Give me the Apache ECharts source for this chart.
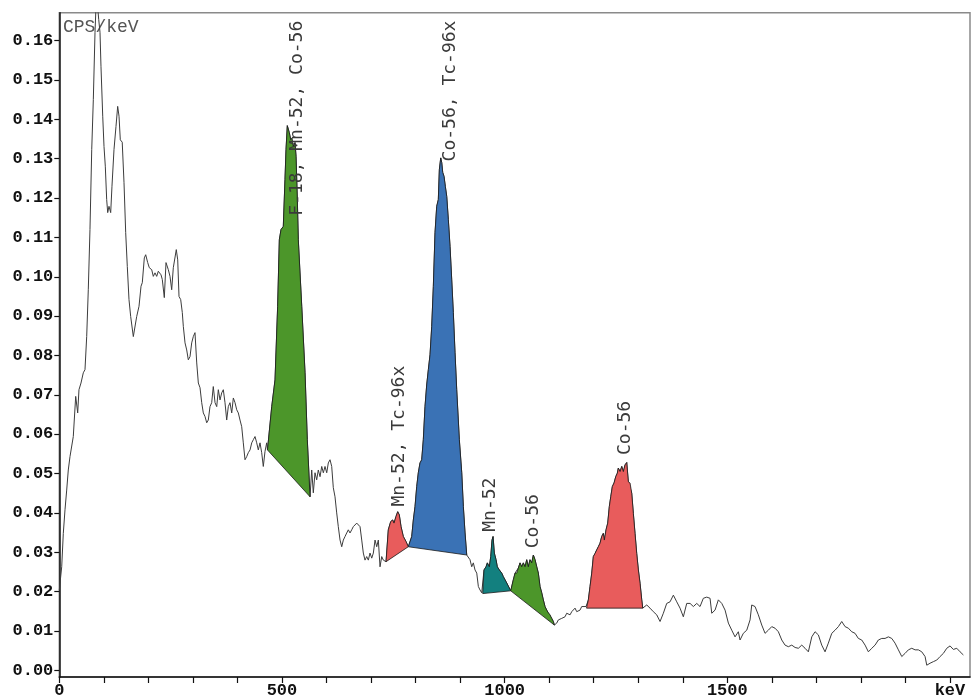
<!DOCTYPE html>
<html><head><meta charset="utf-8">
<script src="https://cdn.jsdelivr.net/npm/echarts@6/dist/echarts.min.js"></script>
<style>html,body{margin:0;padding:0;background:#fff}#c{width:972px;height:699px}</style>
</head><body><div id="c"></div>
<script>
// ---- data ----
const spectrumKeV = [0,5.4,9,12.8,16.6,20.2,24,31.4,36.8,41.3,44.2,48.7,53.9,57.7,61.5,65.1,68.9,72.8,76.4,80.2,83.5,88.5,91.4,93.6,97.5,100.4,103.3,106.4,108.7,111.6,115.4,118.3,122.8,127.3,131.1,134.1,137,141.3,145.3,149.1,152.7,156.5,160.3,166.2,170,173.8,179,183.5,186.4,190.9,194,198.5,202.1,207.5,211.1,214.9,218.7,222.3,228.4,231.3,235.8,239.6,244.8,248.6,252.4,256,259.8,262.7,265.9,268.8,272.6,276.2,278.5,282.3,286.1,289.7,293.5,297.3,300.9,304.7,308.6,312.2,316,319.8,323.4,327.2,331,334.6,338.4,342.2,345.8,349.7,353.5,357.1,360.9,364.7,368.3,372.1,375.9,379.5,383.3,387.2,390.8,394.6,398.4,402,405.8,409.6,413.2,417,420.8,424.4,428.3,432.1,435.7,439.5,443.3,446.9,450.7,454.5,458.1,461.9,465.7,467.5,
477,484.4,490.3,494.1,497.9,503,506.8,509.1,512,516.5,519.7,522.6,525.5,529.3,531.6,534.5,536.7,544.4,551.8,556.9,563,
566.8,570.4,574.2,578,581.6,585.5,589.3,592.9,596.7,600.5,604.1,607.9,611.7,615.3,619.1,622.9,626.5,630.4,634.2,637.8,641.6,645.4,649,652.8,656.6,660.2,664.1,667.9,671.5,675.3,679.1,682.7,686.5,690.3,693.9,697.7,701.6,705.2,709,712.8,716.4,720.2,724,727.6,731.4,733.7,
738.8,744.2,748.7,751.6,756.1,759.9,763.5,767.4,772.5,778.6,783.7,
791.4,795,798.8,802.6,806.2,810,813.8,817.4,821.2,825,828.7,832.5,836.3,839.9,843.7,847.5,851.1,853.4,856.5,858.8,861,863.9,866.8,870,873.6,877.4,881.2,884.8,888.6,892.4,898.3,903.7,907.3,911.1,914.9,
918.5,922.3,926.1,929.7,933.5,937.4,941,944.8,948.6,950.8,
953.7,958.2,961.2,965.6,968.8,971.7,974,976.9,980.7,983.6,988.1,993.5,997.1,1004.7,1013.7,
1019.5,1023.4,1027.2,1030.8,1034.6,1038.4,1042,1045.8,1049.6,1053.2,1057,1060.8,1064.5,1068.3,1072.1,1075.7,1079.5,1083.3,1086.9,1090.7,1094.5,1098.1,1101.9,1105.7,1109.4,1111.6,
1117,1120.6,1124.4,1128.2,1131.8,1135.6,1139.4,1143,1146.9,1150.7,1154.3,1158.1,1161.9,1165.5,1169.3,1173.1,1176.7,1182.8,1183.9,
1188,1191.8,1195.6,1199.2,1203,1206.8,1210.4,1214.2,1218,1221.6,1223.9,1227.7,1231.5,1235.1,1238.3,1241.9,1245.7,1249.5,1253.1,1255.3,1259.2,1263,1266.6,1270.4,1274.2,1277.8,1281.6,1285.4,1289,1292.8,1296.6,1300.3,1304.1,1307.9,1310.1,
1319.1,1326.5,1333.9,1341.5,1349,1356.4,1364,1371.4,1378.9,1386.5,1393.9,1401.3,1408.9,1416.4,1423.8,1431.4,1438.8,1446.2,1453.9,1461.3,1465.1,1472.5,1479.9,1487.6,1495,1502.4,1510,1517.4,1524.8,1528.6,1536,1543.7,1551.1,1554.9,1562.3,1569.7,1577.4,1584.8,1592.2,1599.8,1607.2,1614.7,1622.3,1629.7,1637.1,1644.8,1652.2,1659.6,1667.2,1674.6,1682,1689.7,1697.1,1704.5,1712.1,1719.5,1726.9,1734.6,1742,1749.4,1757,1764.5,1771.9,1779.5,1786.9,1794.3,1801.9,1809.4,1816.8,1824.4,1831.8,1839.2,1846.9,1854.3,1861.7,1869.3,1876.7,1884.2,1891.8,1899.2,1906.6,1914.2,1921.7,1929.1,1936.7,1944.1,1947.9,1955.3,1962.7,1970.4,1977.8,1985.2,1992.8,2000.2,2007.6,2015.3,2022.7,2030.1];
const spectrumCps = [0.0204,0.0263,0.0348,0.0408,0.0458,0.0509,0.0543,0.0594,0.0696,0.0654,0.0713,0.0730,0.0756,0.0764,0.0848,0.0967,0.1120,0.1323,0.1450,0.1621,0.1720,0.1654,0.1621,0.1535,0.1408,0.1331,0.1281,0.1196,0.1163,0.1179,0.1163,0.1230,0.1323,0.1382,0.1433,0.1408,0.1348,0.1342,0.1239,0.1112,0.1026,0.0942,0.0899,0.0848,0.0848,0.0899,0.0925,0.0976,0.0985,0.1048,0.1056,0.1036,0.1023,0.1018,0.1001,0.1010,0.1001,0.1014,0.1005,0.0993,0.0947,0.1036,0.1018,0.1001,0.0967,0.1023,0.1026,0.1069,0.1043,0.0950,0.0942,0.0909,0.0874,0.0832,0.0814,0.0789,0.0797,0.0832,0.0848,0.0858,0.0781,0.0730,0.0718,0.0680,0.0654,0.0645,0.0629,0.0636,0.0670,0.0680,0.0721,0.0680,0.0670,0.0713,0.0687,0.0705,0.0713,0.0680,0.0636,0.0670,0.0680,0.0654,0.0692,0.0680,0.0662,0.0654,0.0636,0.0619,0.0578,0.0535,0.0543,0.0553,0.0560,0.0578,0.0586,0.0594,0.0578,0.0560,0.0578,0.0553,0.0518,0.0556,0.0578,0.0560,
0.0670,0.0738,0.0925,0.1094,0.1120,0.1128,0.1247,0.1323,0.1384,0.1366,0.1348,0.1353,0.1331,0.1341,0.1306,0.1196,0.1094,0.0925,0.0756,0.0586,0.0441,
0.0509,0.0451,0.0502,0.0484,0.0509,0.0492,0.0518,0.0502,0.0518,0.0502,0.0527,0.0535,0.0518,0.0464,0.0441,0.0400,0.0365,0.0331,0.0314,0.0331,0.0340,0.0349,0.0357,0.0349,0.0357,0.0365,0.0369,0.0374,0.0378,0.0365,0.0331,0.0298,0.0280,0.0289,0.0280,0.0298,0.0285,0.0298,0.0331,0.0314,0.0331,0.0263,0.0289,0.0280,0.0276,0.0276,
0.0357,0.0378,0.0382,0.0374,0.0391,0.0403,0.0395,0.0365,0.0340,0.0327,0.0314,
0.0340,0.0382,0.0416,0.0467,0.0502,0.0527,0.0535,0.0586,0.0670,0.0725,0.0764,0.0802,0.0874,0.0975,0.1112,0.1179,0.1196,0.1272,0.1302,0.1290,0.1265,0.1255,0.1230,0.1204,0.1145,0.1077,0.0992,0.0909,0.0807,0.0713,0.0586,0.0502,0.0416,0.0349,0.0293,
0.0289,0.0281,0.0263,0.0273,0.0255,0.0247,0.0213,0.0204,0.0197,0.0195,
0.0255,0.0263,0.0273,0.0263,0.0289,0.0331,0.0340,0.0298,0.0281,0.0263,0.0255,0.0247,0.0238,0.0222,0.0202,
0.0230,0.0247,0.0247,0.0260,0.0273,0.0263,0.0273,0.0263,0.0281,0.0263,0.0281,0.0273,0.0293,0.0281,0.0263,0.0247,0.0213,0.0197,0.0179,0.0162,0.0153,0.0146,0.0141,0.0132,0.0124,0.0115,
0.0120,0.0128,0.0124,0.0132,0.0128,0.0136,0.0145,0.0149,0.0141,0.0149,0.0145,0.0158,0.0149,0.0153,0.0153,0.0162,0.0158,0.0162,0.0158,
0.0179,0.0213,0.0247,0.0289,0.0297,0.0306,0.0314,0.0323,0.0340,0.0348,0.0331,0.0357,0.0374,0.0416,0.0441,0.0467,0.0476,0.0492,0.0501,0.0514,0.0505,0.0518,0.0505,0.0522,0.0528,0.0479,0.0476,0.0450,0.0399,0.0348,0.0297,0.0255,0.0221,0.0179,0.0158,
0.0166,0.0158,0.0149,0.0141,0.0124,0.0145,0.0170,0.0174,0.0191,0.0174,0.0158,0.0136,0.0170,0.0170,0.0162,0.0170,0.0162,0.0183,0.0186,0.0183,0.0145,0.0153,0.0179,0.0170,0.0153,0.0120,0.0102,0.0085,0.0098,0.0077,0.0094,0.0102,0.0128,0.0166,0.0162,0.0141,0.0115,0.0094,0.0102,0.0111,0.0107,0.0098,0.0077,0.0064,0.0060,0.0064,0.0058,0.0056,0.0064,0.0056,0.0047,0.0085,0.0098,0.0090,0.0064,0.0047,0.0069,0.0094,0.0102,0.0111,0.0124,0.0111,0.0107,0.0098,0.0094,0.0081,0.0077,0.0064,0.0047,0.0056,0.0064,0.0077,0.0081,0.0081,0.0085,0.0081,0.0069,0.0052,0.0035,0.0043,0.0052,0.0056,0.0052,0.0052,0.0047,0.0035,0.0013,0.0018,0.0022,0.0026,0.0035,0.0043,0.0056,0.0062,0.0053,0.0056,0.0047,0.0039];

const peakStart = [467.5, 733.7, 783.7, 950.8, 1013.7, 1183.9];
const peakEnd   = [563, 783.7, 914.9, 1013.7, 1111.6, 1310.1];
const peakLabels = ['F-18, Mn-52, Co-56', 'Mn-52, Tc-96x', 'Co-56, Tc-96x', 'Mn-52', 'Co-56', 'Co-56'];
const labelKeV = [535, 764, 877, 969, 1064, 1270];
const labelCps = [0.1155, 0.0416, 0.1293, 0.0352, 0.0310, 0.0547];

const yTicks = [0,0.01,0.02,0.03,0.04,0.05,0.06,0.07,0.08,0.09,0.10,0.11,0.12,0.13,0.14,0.15,0.16];
const xTicks = [0,100,200,300,400,500,600,700,800,900,1000,1100,1200,1300,1400,1500,1600,1700,1800,1900,2000];
const xLabelValues = [0,500,1000,1500,2000];
const xLabelTexts = ['0','500','1000','1500','keV'];

// ---- styles ----
const peakFill = ['#4c962a', '#e85c5c', '#3a72b5', '#13807f', '#4c962a', '#e85c5c'];

const spectrum = spectrumKeV.map((k, i) => [k, spectrumCps[i]]);

const chart = echarts.init(document.getElementById('c'), null, {renderer: 'canvas'});
const tickFont = {fontFamily: 'Liberation Mono', fontWeight: 'bold', fontSize: 17, color: '#111'};

chart.setOption({
  animation: false,
  backgroundColor: '#fff',
  grid: {left: 59.3, right: 2, top: 12.7, bottom: 22, show: true, borderColor: '#8a8a8a', borderWidth: 1.5, containLabel: false, outerBoundsMode: 'none'},
  xAxis: {
    type: 'value', min: 0, max: 2045,
    axisLine: {show: true, onZero: false, lineStyle: {color: '#111', width: 1.5}},
    axisTick: {show: true, customValues: xTicks, length: 6, lineStyle: {color: '#111', width: 1.2}},
    axisLabel: Object.assign({customValues: xLabelValues, margin: 5,
      formatter: v => { const i = xLabelValues.indexOf(v); return i >= 0 ? xLabelTexts[i] : ''; }}, tickFont),
    splitLine: {show: false}
  },
  yAxis: {
    type: 'value', min: -0.0017, max: 0.1671,
    axisLine: {show: true, onZero: false, lineStyle: {color: '#111', width: 1.5}},
    axisTick: {show: true, customValues: yTicks, length: 5, lineStyle: {color: '#111', width: 1.2}},
    axisLabel: Object.assign({customValues: yTicks, margin: 6, formatter: v => v.toFixed(2)}, tickFont),
    splitLine: {show: false}
  },
  graphic: [{type: 'text', left: 63, top: 18, style: {text: 'CPS/keV', font: '18px "Liberation Mono"', fill: '#555'}}],
  series: [
    {type: 'line', data: spectrum, symbol: 'none', showSymbol: false, clip: true,
     lineStyle: {color: '#3c3c3c', width: 1}, z: 2},
    {type: 'custom', z: 3, clip: true,
     data: peakStart.map((s, i) => [s, 0]),
     renderItem: function (params, api) {
       const i = params.dataIndex;
       const pts = [];
       for (let j = 0; j < spectrumKeV.length; j++) {
         const k = spectrumKeV[j];
         if (k >= peakStart[i] - 1e-6 && k <= peakEnd[i] + 1e-6) pts.push(api.coord([k, spectrumCps[j]]));
       }
       return {type: 'polygon', shape: {points: pts}, style: {fill: peakFill[i], stroke: '#1a1a1a', lineWidth: 0.8}};
     }},
    {type: 'custom', z: 4,
     data: labelKeV.map((k, i) => [k, labelCps[i]]),
     renderItem: function (params, api) {
       const i = params.dataIndex;
       const p = api.coord([api.value(0), api.value(1)]);
       return {type: 'text', x: p[0], y: p[1], rotation: Math.PI / 2,
         style: {text: peakLabels[i], font: '18px "DejaVu Sans Mono"', fill: '#3a3a3a', align: 'left', verticalAlign: 'middle'}};
     }}
  ]
});
</script></body></html>
